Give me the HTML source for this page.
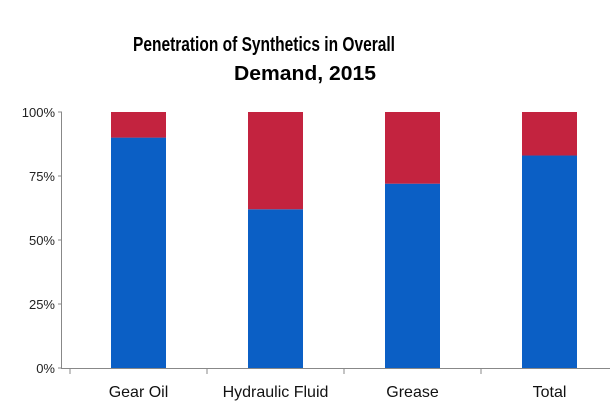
<!DOCTYPE html>
<html><head><meta charset="utf-8"><style>
html,body{margin:0;padding:0;background:#fff;width:610px;height:407px;overflow:hidden}
svg{display:block;font-family:"Liberation Sans",sans-serif}
</style></head><body>
<svg id="chart" width="610" height="407" viewBox="0 0 610 407">
<text x="264" y="51" text-anchor="middle" font-size="20" font-weight="bold" textLength="262" lengthAdjust="spacingAndGlyphs">Penetration of Synthetics in Overall</text>
<text x="305" y="80" text-anchor="middle" font-size="20" font-weight="bold" textLength="142" lengthAdjust="spacingAndGlyphs">Demand, 2015</text>
<g id="plot"></g>
</svg>
<script>
const categories = ["Gear Oil","Hydraulic Fluid","Grease","Total"];
const synthetic = [90,62,72,83];
const conventional = [10,38,28,17];
const yTicks = [0,25,50,75,100];
const yTickLabels = ["0%","25%","50%","75%","100%"];

const x0 = 70, step = 137, barW = 55;
const yTop = 112, yBot = 368;
const y = v => yBot - (v/100)*(yBot-yTop);
const cx = i => x0 + step*(i+0.5);
const NS = "http://www.w3.org/2000/svg";
const g = document.getElementById("plot");
function mk(tag, attrs){const e=document.createElementNS(NS,tag);for(const k in attrs)e.setAttribute(k,attrs[k]);g.appendChild(e);return e;}

yTicks.forEach((t,i)=>{
  const tl = mk("text",{x:55,y:y(t)+5,"text-anchor":"end","font-size":"13",fill:"#222"});
  tl.textContent = yTickLabels[i];
  
  
  const tk = mk("line",{x1:58,x2:62,y1:y(t),y2:y(t),stroke:"#888"});
  
  
});
const ya = mk("line",{x1:61.5,x2:61.5,y1:yTop,y2:yBot,stroke:"#888"});


const xa = mk("line",{x1:61,x2:610,y1:yBot+0.5,y2:yBot+0.5,stroke:"#888"});



categories.forEach((c,i)=>{
  const tk = mk("line",{x1:x0+step*i,x2:x0+step*i,y1:yBot,y2:yBot+6,stroke:"#888"});
  
  
  const b1 = mk("rect",{x:cx(i)-barW/2,y:y(synthetic[i]),width:barW,height:y(0)-y(synthetic[i]),fill:"#0b5fc5"});
  
  
  const top = synthetic[i]+conventional[i];
  const b2 = mk("rect",{x:cx(i)-barW/2,y:y(top),width:barW,height:y(synthetic[i])-y(top),fill:"#c3233f"});
  
  
  const lb = mk("text",{x:cx(i),y:397,"text-anchor":"middle","font-size":"16",fill:"#111"});
  lb.textContent = c;
  
  
});
</script>
</body></html>
